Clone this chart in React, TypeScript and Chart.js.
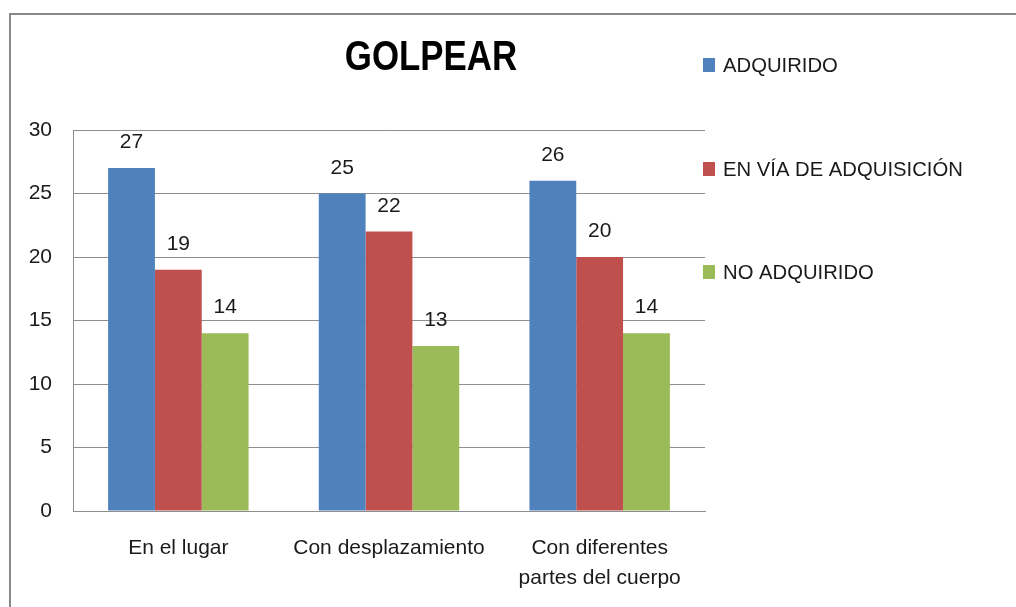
import React, { useEffect, useRef } from "react";
import { Chart, registerables } from "chart.js";

Chart.register(...registerables);

const TITLE = "GOLPEAR";
const categories: (string | string[])[] = [
  "En el lugar",
  "Con desplazamiento",
  ["Con diferentes", "partes del cuerpo"],
];
const seriesNames = ["ADQUIRIDO", "EN VÍA DE ADQUISICIÓN", "NO ADQUIRIDO"];
const adquirido = [27, 25, 26];
const enVia = [19, 22, 20];
const noAdquirido = [14, 13, 14];
const seriesColors = ["#4F81BD", "#C0504D", "#9BBB59"];
const yTicks = { min: 0, max: 30, step: 5 };

const FONT = "'Liberation Sans', Arial, sans-serif";

const decorPlugin = {
  id: "decor",
  afterDatasetsDraw(chart: any) {
    const ctx = chart.ctx;
    ctx.save();
    // data labels
    ctx.font = `21px ${FONT}`;
    ctx.fillStyle = "#1a1a1a";
    ctx.textAlign = "center";
    ctx.textBaseline = "alphabetic";
    chart.data.datasets.forEach((ds: any, i: number) => {
      const meta = chart.getDatasetMeta(i);
      meta.data.forEach((bar: any, j: number) => {
        ctx.fillText(String(ds.data[j]), bar.x, bar.y - 20);
      });
    });
    // title (condensed)
    ctx.save();
    ctx.font = `bold 42px ${FONT}`;
    ctx.fillStyle = "#000";
    ctx.textBaseline = "middle";
    ctx.textAlign = "center";
    ctx.translate(431, 58);
    ctx.scale(0.83, 1);
    ctx.fillText(TITLE, 0, 0);
    ctx.restore();
    // legend
    const itemYs = [65, 169, 272];
    ctx.font = `21px ${FONT}`;
    ctx.textAlign = "left";
    ctx.textBaseline = "middle";
    chart.data.datasets.forEach((ds: any, i: number) => {
      const y = itemYs[i];
      ctx.fillStyle = ds.backgroundColor;
      ctx.fillRect(703, y - 7, 12, 14);
      ctx.save();
      ctx.fillStyle = "#1a1a1a";
      ctx.translate(723, y + 1);
      ctx.scale(0.965, 1);
      ctx.fillText(ds.label, 0, 0);
      ctx.restore();
    });
    ctx.restore();
  },
};

export default function App() {
  const ref = useRef<HTMLCanvasElement>(null);
  useEffect(() => {
    if (!ref.current) return;
    const chart = new Chart(ref.current, {
      type: "bar",
      data: {
        labels: categories,
        datasets: [
          { label: seriesNames[0], data: adquirido, backgroundColor: seriesColors[0] },
          { label: seriesNames[1], data: enVia, backgroundColor: seriesColors[1] },
          { label: seriesNames[2], data: noAdquirido, backgroundColor: seriesColors[2] },
        ],
      },
      options: {
        responsive: false,
        animation: false,
        devicePixelRatio: 1,
        layout: { padding: { left: 0, right: 311, top: 130, bottom: 0 } },
        datasets: { bar: { categoryPercentage: 3 / 4.5, barPercentage: 1 } },
        plugins: {
          legend: { display: false },
          title: { display: false },
          tooltip: { enabled: false },
        },
        scales: {
          x: {
            grid: { display: false, drawTicks: false },
            border: { display: true, color: "#8E8E8E", width: 1 },
            ticks: {
              padding: 22,
              color: "#1a1a1a",
              font: { family: FONT, size: 21, lineHeight: 1.43 },
              maxRotation: 0,
              autoSkip: false,
            },
            afterFit: (s: any) => {
              s.height = 96;
            },
          },
          y: {
            min: yTicks.min,
            max: yTicks.max,
            grid: { color: "#8E8E8E", lineWidth: 1, drawTicks: false },
            border: { display: true, color: "#8E8E8E", width: 1 },
            ticks: {
              stepSize: yTicks.step,
              padding: 21,
              color: "#1a1a1a",
              font: { family: FONT, size: 21 },
            },
            afterFit: (s: any) => {
              s.width = 73;
            },
          },
        },
      },
      plugins: [decorPlugin],
    });
    return () => chart.destroy();
  }, []);
  return (
    <div
      style={{
        position: "fixed",
        left: 0,
        top: 0,
        width: 1016,
        height: 607,
        overflow: "hidden",
        background: "#fff",
      }}
    >
      <div
        style={{
          position: "absolute",
          left: 9,
          top: 13,
          width: 2000,
          height: 2000,
          border: "2px solid #888",
        }}
      />
      <canvas
        ref={ref}
        width={1016}
        height={607}
        style={{ position: "absolute", left: 0, top: 0, width: 1016, height: 607 }}
      />
    </div>
  );
}
